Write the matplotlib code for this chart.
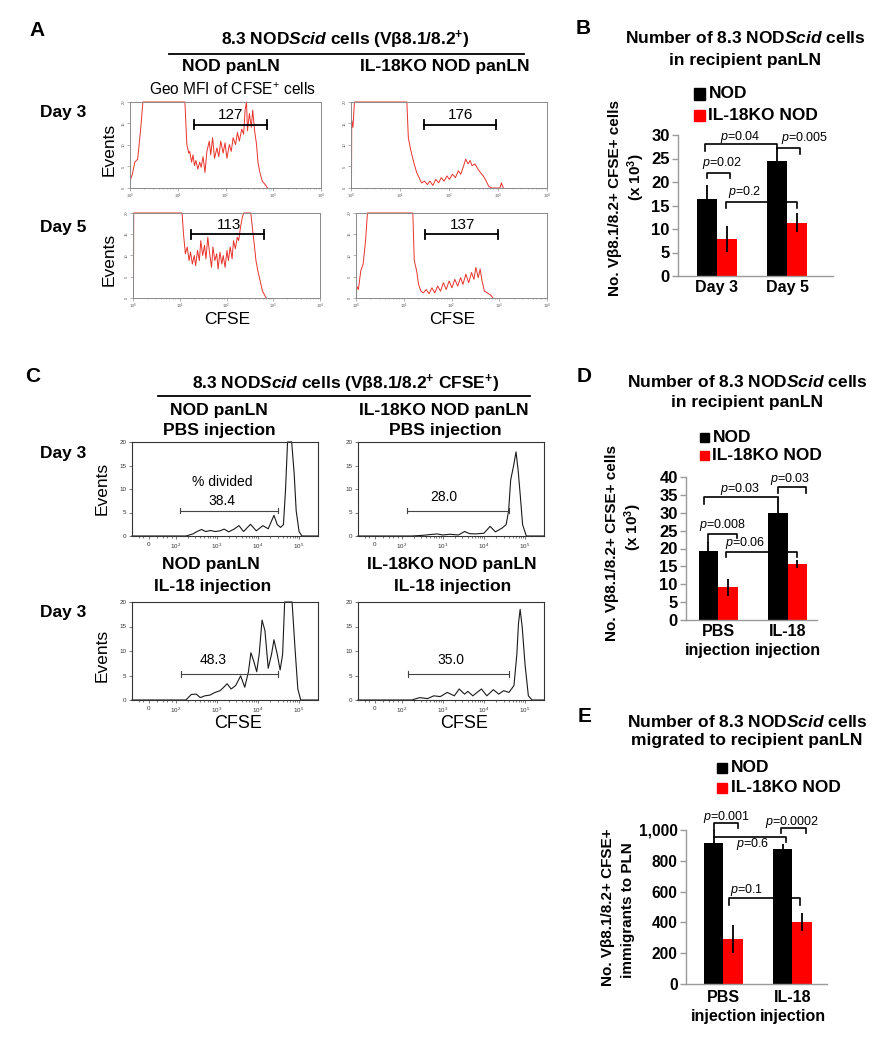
import numpy as np
import matplotlib
matplotlib.use("Agg")
import matplotlib.pyplot as plt
from matplotlib.patches import Rectangle
from matplotlib.ticker import FuncFormatter, FixedLocator

plt.rcParams['font.family'] = ['Liberation Sans', 'DejaVu Sans']
plt.rcParams['mathtext.fontset'] = 'custom'
plt.rcParams['mathtext.rm'] = 'Liberation Sans'
plt.rcParams['mathtext.it'] = 'Liberation Sans:italic'
plt.rcParams['mathtext.bf'] = 'Liberation Sans:bold'
try:
    plt.rcParams['mathtext.bfit'] = 'Liberation Sans:italic:bold'
except Exception:
    pass

# ---------------- DATA ----------------
# Panel A: flow histograms (x = log10 CFSE, y = events, saturated at 20)
a_d3_nod_x = [0.01, 0.05, 0.10, 0.16, 0.22, 0.27, 0.6, 0.9, 1.15, 1.19, 1.23, 1.25, 1.29, 1.32, 1.35, 1.38,
              1.42, 1.46, 1.49, 1.53, 1.57, 1.61, 1.66, 1.69, 1.73, 1.77, 1.82, 1.86, 1.90, 1.95, 1.99,
              2.03, 2.08, 2.12, 2.16, 2.21, 2.25, 2.29, 2.34, 2.38, 2.41, 2.44, 2.46, 2.50, 2.54, 2.57,
              2.61, 2.65, 2.68, 2.72, 2.77, 2.83, 2.88]
a_d3_nod_y = [2.0, 3.2, 6.0, 6.7, 13.3, 20, 20, 20, 20, 10.1, 8.1, 8.5, 6.0, 7.7, 5.2, 6.4,
              4.4, 6.0, 4.8, 7.3, 3.6, 8.5, 10.9, 7.7, 11.7, 6.9, 9.3, 7.3, 10.9, 8.1, 10.5,
              6.9, 10.1, 8.5, 11.7, 10.1, 12.9, 10.9, 13.7, 12.5, 18.1, 20, 13.3, 17.3, 14.1, 18.1,
              13.3, 10.1, 6.0, 3.6, 1.6, 0.8, 0]
a_d3_ko_x = [0.01, 0.015, 0.04, 0.07, 0.5, 1.0, 1.14, 1.17, 1.21, 1.26, 1.30, 1.34, 1.39, 1.44, 1.50,
             1.56, 1.61, 1.67, 1.73, 1.79, 1.84, 1.90, 1.96, 2.01, 2.07, 2.13, 2.19, 2.24, 2.30, 2.34,
             2.39, 2.43, 2.47, 2.53, 2.59, 2.64, 2.70, 2.76, 2.81, 2.87, 3.04, 3.07, 3.11]
a_d3_ko_y = [0, 15.7, 14.1, 20, 20, 20, 20, 11.7, 9.3, 6.9, 5.2, 3.6, 2.4, 1.2, 1.6,
             0.8, 1.6, 0.6, 2.0, 1.2, 2.4, 1.6, 2.8, 2.0, 3.2, 2.4, 4.0, 3.2, 5.2, 6.7,
             5.6, 6.4, 5.2, 5.6, 4.4, 3.6, 2.8, 1.6, 0.4, 0, 0, 1.2, 0]
a_d5_nod_x = [0.01, 0.015, 0.5, 1.0, 1.05, 1.08, 1.12, 1.16, 1.20, 1.23, 1.27, 1.31, 1.34, 1.38, 1.42,
              1.45, 1.49, 1.53, 1.56, 1.60, 1.64, 1.68, 1.71, 1.75, 1.79, 1.82, 1.86, 1.90, 1.93, 1.97,
              2.01, 2.04, 2.08, 2.12, 2.15, 2.19, 2.23, 2.26, 2.30, 2.34, 2.37, 2.52, 2.56, 2.60, 2.63,
              2.67, 2.72, 2.77, 2.81, 2.85]
a_d5_nod_y = [0, 20, 20, 20, 20, 15.1, 10.4, 12.0, 8.8, 10.8, 8.0, 10.0, 7.6, 11.2, 8.8,
              13.5, 10.0, 12.4, 9.2, 14.3, 10.4, 7.2, 12.0, 8.8, 10.4, 6.8, 10.8, 8.0, 10.0, 7.2,
              11.2, 8.8, 12.0, 9.2, 13.5, 11.6, 14.3, 13.5, 16.7, 19.1, 20, 20, 15.9, 12.0, 8.8,
              6.4, 4.0, 1.6, 0.8, 0]
a_d5_ko_x = [0.01, 0.015, 0.05, 0.10, 0.15, 0.20, 0.24, 0.6, 1.0, 1.19, 1.22, 1.27, 1.31, 1.36, 1.41,
             1.47, 1.53, 1.59, 1.65, 1.71, 1.77, 1.83, 1.89, 1.95, 2.01, 2.07, 2.13, 2.19, 2.24, 2.30,
             2.36, 2.42, 2.47, 2.51, 2.56, 2.60, 2.64, 2.69, 2.75, 2.81, 2.87]
a_d5_ko_y = [0, 2.8, 2.0, 6.4, 8.0, 13.5, 20, 20, 20, 20, 8.8, 6.4, 3.2, 1.6, 1.2,
             2.0, 1.0, 2.4, 1.2, 2.8, 1.6, 3.6, 2.0, 4.0, 2.4, 4.4, 2.8, 4.8, 3.2, 5.6,
             3.6, 6.0, 4.4, 7.2, 4.8, 6.8, 4.0, 1.6, 1.2, 0.8, 0]
# gates: start, end (log10 CFSE), height ; labels (Geo MFI)
a_gates = [(1.33, 2.86, 14.75), (1.48, 2.95, 14.75), (1.25, 2.81, 15.0), (1.44, 2.97, 15.0)]
a_mfi = ['127', '176', '113', '137']

# Panel C: flow histograms on biexponential scale (x = display decade, 0 at 1.35)
c_pbs_nod_x = [0.94, 2.25, 2.42, 2.52, 2.63, 2.73, 2.85, 2.96, 3.08, 3.18, 3.29, 3.42, 3.54, 3.65, 3.82,
               3.96, 4.12, 4.25, 4.39, 4.47, 4.55, 4.62, 4.67, 4.72, 4.82, 4.88, 4.93, 5.00, 5.07, 5.46]
c_pbs_nod_y = [0, 0, 0.44, 0.95, 1.39, 0.95, 1.17, 0.95, 1.10, 1.47, 0.88, 1.47, 2.20, 0.95, 2.49,
               1.10, 2.20, 1.54, 4.40, 2.42, 1.83, 2.42, 9.74, 20, 20, 13.4, 5.35, 0.95, 0, 0]
c_pbs_ko_x = [0.94, 2.25, 2.53, 2.67, 2.86, 3.0, 3.17, 3.38, 3.53, 3.65, 3.79, 4.0, 4.15, 4.28, 4.44,
              4.54, 4.60, 4.65, 4.72, 4.78, 4.83, 4.88, 4.94, 5.03, 5.46]
c_pbs_ko_y = [0, 0, 0.15, 0.29, 0.44, 0.22, 0.37, 0.22, 0.95, 0.51, 0.44, 0.59, 2.05, 0.88, 1.68,
              2.42, 5.35, 11.9, 14.9, 17.9, 14.1, 9.0, 2.42, 0, 0]
c_il18_nod_x = [0.94, 2.25, 2.38, 2.50, 2.60, 2.71, 2.83, 2.96, 3.08, 3.17, 3.25, 3.35, 3.46, 3.58, 3.68,
                3.77, 3.83, 3.90, 3.97, 4.03, 4.10, 4.17, 4.25, 4.33, 4.39, 4.47, 4.54, 4.60, 4.65, 4.83,
                4.90, 4.97, 5.04, 5.46]
c_il18_nod_y = [0, 0, 1.13, 1.20, 0.49, 0.85, 0.99, 1.55, 1.90, 2.61, 3.31, 2.25, 2.96, 4.93, 2.61,
                5.77, 9.65, 7.89, 5.77, 9.30, 16.3, 14.2, 6.48, 9.30, 12.3, 9.30, 6.13, 9.30, 20, 20,
                10.7, 2.25, 0, 0]
c_il18_ko_x = [0.94, 2.25, 2.44, 2.63, 2.78, 2.94, 3.11, 3.28, 3.40, 3.53, 3.61, 3.73, 3.94, 4.07, 4.23,
               4.36, 4.48, 4.61, 4.73, 4.80, 4.84, 4.88, 4.93, 5.00, 5.08, 5.17, 5.46]
c_il18_ko_y = [0, 0, 0.49, 0.28, 0.85, 0.70, 1.55, 0.85, 2.25, 1.20, 1.76, 0.85, 2.25, 0.85, 2.11,
               1.20, 1.90, 1.55, 2.96, 9.30, 15.6, 18.5, 14.9, 7.18, 0.85, 0, 0]
c_gates = [(2.11, 4.50, 5.4), (2.13, 4.62, 5.4), (2.125, 4.50, 5.35), (2.15, 4.62, 5.35)]
c_divided = ['38.4', '28.0', '48.3', '35.0']
c_xtick_pos = [1.35, 2, 3, 4, 5]
c_xtick_lab = ['0', '10$^{2}$', '10$^{3}$', '10$^{4}$', '10$^{5}$']

# Panel B
b_groups = ['Day 3', 'Day 5']
b_nod = [16.3, 24.5]
b_nod_err = [3.0, 3.0]
b_ko = [7.9, 11.3]
b_ko_err = [2.7, 2.0]
# Panel D
d_groups = ['PBS\ninjection', 'IL-18\ninjection']
d_nod = [19.2, 30.0]
d_nod_err = [2.6, 4.3]
d_ko = [9.1, 15.7]
d_ko_err = [2.5, 1.2]
# Panel E
e_groups = ['PBS\ninjection', 'IL-18\ninjection']
e_nod = [915, 877]
e_nod_err = [85, 35]
e_ko = [292, 402]
e_ko_err = [92, 56]

RED = '#ff0000'
HRED = '#e8332a'
W, H = 889, 1050
fig = plt.figure(figsize=(W / 100, H / 100), dpi=100)


def ax_px(x0, y0, x1, y1):
    return fig.add_axes([x0 / W, 1 - y1 / H, (x1 - x0) / W, (y1 - y0) / H])


def txt(x, y, s, **kw):
    kw.setdefault('ha', 'center')
    kw.setdefault('va', 'center')
    fig.text(x / W, 1 - y / H, s, **kw)


def hline(x0, x1, y, lw=1.3):
    fig.add_artist(plt.Line2D([x0 / W, x1 / W], [1 - y / H, 1 - y / H], color='k', lw=lw))


HDR = 12.6
TTL = 12.5

# ---------------- PANEL A ----------------
txt(37, 31, 'A', fontsize=15, fontweight='bold')
txt(345, 40, r'8.3 NOD$\mathbfit{Scid}$ cells (Vβ8.1/8.2$^{\mathbf{+}}$)', fontsize=TTL, fontweight='bold')
hline(169, 524, 54)
txt(231, 67, 'NOD panLN', fontsize=HDR, fontweight='bold')
txt(445, 67, 'IL-18KO NOD panLN', fontsize=HDR, fontweight='bold')
txt(232, 90, r'Geo MFI of CFSE$^{+}$ cells', fontsize=11.2)
txt(63, 113, 'Day 3', fontsize=12.5, fontweight='bold')
txt(63, 228, 'Day 5', fontsize=12.5, fontweight='bold')

a_rects = [(130, 102, 321, 188), (351, 102, 547, 188), (133, 213, 320, 298), (356, 213, 547, 298)]
a_data = [(a_d3_nod_x, a_d3_nod_y), (a_d3_ko_x, a_d3_ko_y), (a_d5_nod_x, a_d5_nod_y), (a_d5_ko_x, a_d5_ko_y)]
for i, (r, (xs, ys)) in enumerate(zip(a_rects, a_data)):
    ax = ax_px(*r)
    ax.plot(10 ** np.array(xs), ys, color=HRED, lw=0.7, clip_on=False)
    ax.set_xscale('log')
    ax.set_xlim(1, 1e4)
    ax.set_ylim(0, 20)
    for s in ax.spines.values():
        s.set_color('#8a8a8a')
        s.set_linewidth(0.7)
    ax.tick_params(which='both', direction='out', color='#777', width=0.4, labelsize=3.0,
                   labelcolor='#555', pad=0.8)
    ax.tick_params(which='major', length=2)
    ax.tick_params(which='minor', length=1)
    ax.set_xticks([1, 10, 100, 1000, 10000])
    ax.set_xticklabels(['10$^{0}$', '10$^{1}$', '10$^{2}$', '10$^{3}$', '10$^{4}$'])
    ax.set_yticks([0, 5, 10, 15, 20])
    ax.set_yticklabels(['0', '5', '10', '15', '20'], rotation=90, va='center')
    g0, g1, gy = a_gates[i]
    ax.plot([10 ** g0, 10 ** g1], [gy, gy], color='k', lw=1.3)
    for gx in (g0, g1):
        ax.plot([10 ** gx] * 2, [gy - 1.1, gy + 1.1], color='k', lw=1.3)
    ax.text(10 ** ((g0 + g1) / 2 + 0.02), gy + 2.2, a_mfi[i], ha='center', va='center', fontsize=11)

txt(109, 149, 'Events', fontsize=12.5, rotation=90)
txt(109, 259, 'Events', fontsize=12.5, rotation=90)
txt(227, 320, 'CFSE', fontsize=12.5)
txt(452, 320, 'CFSE', fontsize=12.5)

# ---------------- PANEL C ----------------
txt(33, 377, 'C', fontsize=15, fontweight='bold')
txt(346, 384, r'8.3 NOD$\mathbfit{Scid}$ cells (Vβ8.1/8.2$^{\mathbf{+}}$ CFSE$^{\mathbf{+}}$)',
    fontsize=TTL, fontweight='bold')
hline(158, 530, 396)
txt(219, 411, 'NOD panLN', fontsize=HDR, fontweight='bold')
txt(219, 431, 'PBS injection', fontsize=HDR, fontweight='bold')
txt(444, 411, 'IL-18KO NOD panLN', fontsize=HDR, fontweight='bold')
txt(445, 431, 'PBS injection', fontsize=HDR, fontweight='bold')
txt(211, 565, 'NOD panLN', fontsize=HDR, fontweight='bold')
txt(213, 586, 'IL-18 injection', fontsize=HDR, fontweight='bold')
txt(452, 565, 'IL-18KO NOD panLN', fontsize=HDR, fontweight='bold')
txt(453, 586, 'IL-18 injection', fontsize=HDR, fontweight='bold')
txt(63, 454, 'Day 3', fontsize=12.5, fontweight='bold')
txt(63, 613, 'Day 3', fontsize=12.5, fontweight='bold')

c_rects = [(132, 442, 318, 536), (358, 442, 544, 536), (132, 602, 318, 700), (358, 602, 544, 700)]
c_data = [(c_pbs_nod_x, c_pbs_nod_y), (c_pbs_ko_x, c_pbs_ko_y), (c_il18_nod_x, c_il18_nod_y),
          (c_il18_ko_x, c_il18_ko_y)]
minor = [d + np.log10(k) for d in (2, 3, 4) for k in range(2, 10)] + [1.55, 1.7, 1.8, 1.9, 1.1, 1.2]
for i, (r, (xs, ys)) in enumerate(zip(c_rects, c_data)):
    ax = ax_px(*r)
    ax.plot(xs, ys, color='#1a1a1a', lw=0.8, clip_on=False)
    ax.set_xlim(0.94, 5.46)
    ax.set_ylim(0, 20)
    for s in ax.spines.values():
        s.set_color('#333')
        s.set_linewidth(0.8)
    ax.set_xticks(c_xtick_pos)
    ax.set_xticklabels(c_xtick_lab)
    ax.xaxis.set_minor_locator(FixedLocator(minor))
    ax.set_yticks([0, 5, 10, 15, 20])
    ax.tick_params(which='both', direction='out', color='#444', width=0.5, labelsize=4.5,
                   labelcolor='#333', pad=1.5)
    ax.tick_params(which='major', length=2.5)
    ax.tick_params(which='minor', length=1.3)
    g0, g1, gy = c_gates[i]
    ax.plot([g0, g1], [gy, gy], color='#444', lw=0.8)
    for gx in (g0, g1):
        ax.plot([gx, gx], [gy - 0.6, gy + 0.6], color='#444', lw=0.8)
    lx = [3.125, 3.03, 2.92, 3.19][i]
    if i == 0:
        ax.text(lx, 11.4, '% divided', ha='center', va='center', fontsize=10)
        ax.text(lx, 7.5, c_divided[i], ha='center', va='center', fontsize=10)
    else:
        ax.text(lx, 8.2, c_divided[i], ha='center', va='center', fontsize=10)

txt(102, 488, 'Events', fontsize=12.5, rotation=90)
txt(102, 655, 'Events', fontsize=12.5, rotation=90)
txt(238, 723, 'CFSE', fontsize=13)
txt(464, 723, 'CFSE', fontsize=13)


# ---------------- BAR PANELS ----------------
def bar_panel(rect, xlim, ylim, groups, nod, nod_err, ko, ko_err, yticks, fmt, tick_fs, xl_fs, pad):
    ax = ax_px(*rect)
    x = np.arange(len(groups))
    w = 0.28
    ax.bar(x - w / 2, nod, w, color='k', zorder=2)
    ax.bar(x + w / 2, ko, w, color=RED, zorder=2)
    ax.errorbar(x - w / 2, nod, yerr=nod_err, fmt='none', ecolor='k', elinewidth=1.3, capsize=0, zorder=3)
    ax.errorbar(x + w / 2, ko, yerr=ko_err, fmt='none', ecolor='k', elinewidth=1.3, capsize=0, zorder=3)
    ax.set_xlim(*xlim)
    ax.set_ylim(*ylim)
    for side in ('top', 'right'):
        ax.spines[side].set_visible(False)
    for side in ('left', 'bottom'):
        ax.spines[side].set_color('#9a9a9a')
        ax.spines[side].set_linewidth(1.0)
    ax.set_yticks(yticks)
    ax.yaxis.set_major_formatter(FuncFormatter(fmt))
    ax.tick_params(axis='y', direction='out', length=4, width=1.0, color='#9a9a9a', pad=2,
                   labelsize=tick_fs)
    ax.set_xticks(x)
    ax.set_xticklabels(groups, fontsize=xl_fs, fontweight='bold', linespacing=1.35)
    ax.tick_params(axis='x', length=0, pad=pad)
    for lab in ax.get_yticklabels():
        lab.set_fontweight('bold')
    return ax


def bracket(ax, x1, x2, y, l1, l2, label, lx, ly, fs=9):
    xs, ys = [], []
    if l1 is not None:
        xs.append(x1); ys.append(l1)
    xs += [x1, x2]; ys += [y, y]
    if l2 is not None:
        xs.append(x2); ys.append(l2)
    ax.plot(xs, ys, color='k', lw=1.2, clip_on=False, zorder=4)
    ax.text(lx, ly, label, ha='center', va='center', fontsize=fs, clip_on=False)


def legend(x_sq, y1, y2, size=11, fs=12.5, gap=4):
    for yy, col, lab in ((y1, 'k', 'NOD'), (y2, RED, 'IL-18KO NOD')):
        fig.add_artist(Rectangle(((x_sq - size / 2) / W, 1 - (yy + size / 2) / H), size / W, size / H,
                                 color=col, transform=fig.transFigure))
        txt(x_sq + size / 2 + gap, yy, lab, ha='left', fontsize=fs, fontweight='bold')


int_fmt = lambda v, p: f'{v:.0f}'
comma_fmt = lambda v, p: f'{v:,.0f}'

# Panel B
txt(583, 28, 'B', fontsize=15, fontweight='bold')
txt(745, 38, r'Number of 8.3 NOD$\mathbfit{Scid}$ cells', fontsize=TTL, fontweight='bold')
txt(745, 60, 'in recipient panLN', fontsize=TTL, fontweight='bold')
legend(699, 94, 116)
axb = bar_panel((678, 135, 833, 276), (-0.557, 1.657), (0, 30), b_groups, b_nod, b_nod_err, b_ko, b_ko_err,
                range(0, 31, 5), int_fmt, 12, 11.5, 3)
bracket(axb, -0.14, 0.18, 22.0, 20.8, 20.8, '$p$=0.02', 0.07, 24.0)
bracket(axb, -0.17, 0.86, 28.0, 26.5, 27.0, '$p$=0.04', 0.33, 29.6)
bracket(axb, 0.86, 1.19, 27.2, None, 26.0, '$p$=0.005', 1.25, 29.4)
bracket(axb, 0.13, 1.14, 15.8, 14.4, 14.4, '$p$=0.2', 0.4, 17.8)
txt(615, 198, 'No. Vβ8.1/8.2+ CFSE+ cells', fontsize=11, fontweight='bold', rotation=90)
txt(636, 177, r'(x 10$^{\mathbf{3}}$)', fontsize=11, fontweight='bold', rotation=90)

# Panel D
txt(584, 377, 'D', fontsize=15, fontweight='bold')
txt(747, 382, r'Number of 8.3 NOD$\mathbfit{Scid}$ cells', fontsize=TTL, fontweight='bold')
txt(747, 403, 'in recipient panLN', fontsize=TTL, fontweight='bold')
legend(704, 437, 455, size=9)
axd = bar_panel((686, 477, 817, 620), (-0.46, 1.42), (0, 40), d_groups, d_nod, d_nod_err, d_ko, d_ko_err,
                range(0, 41, 5), int_fmt, 12, 11.5, 3)
bracket(axd, -0.14, 0.27, 24.0, 21.9, 22.8, '$p$=0.008', 0.07, 26.6)
bracket(axd, 0.12, 1.14, 19.1, 17.7, 17.7, '$p$=0.06', 0.39, 21.4)
bracket(axd, -0.2, 0.86, 34.3, 32.5, None, '$p$=0.03', 0.32, 36.7)
bracket(axd, 0.86, 1.26, 37.1, 35.5, 35.5, '$p$=0.03', 1.04, 39.5)
txt(612, 543, 'No. Vβ8.1/8.2+ CFSE+ cells', fontsize=11, fontweight='bold', rotation=90)
txt(633, 527, r'(x 10$^{\mathbf{3}}$)', fontsize=11, fontweight='bold', rotation=90)

# Panel E
txt(585, 717, 'E', fontsize=15, fontweight='bold')
txt(747, 722, r'Number of 8.3 NOD$\mathbfit{Scid}$ cells', fontsize=TTL, fontweight='bold')
txt(747, 741, 'migrated to recipient panLN', fontsize=TTL, fontweight='bold')
legend(722, 768, 788, size=10)
axe = bar_panel((686, 830, 827, 984), (-0.543, 1.5), (0, 1000), e_groups, e_nod, e_nod_err, e_ko, e_ko_err,
                range(0, 1001, 200), comma_fmt, 11.2, 11.5, 4)
bracket(axe, -0.14, 0.21, 1043, 1000, 1013, '$p$=0.001', 0.04, 1087)
bracket(axe, 0.83, 1.2, 1011, 978, 978, '$p$=0.0002', 1.0, 1054)
bracket(axe, -0.14, 0.906, 952, None, 920, '$p$=0.6', 0.43, 909)
bracket(axe, 0.08, 1.11, 557, 514, 514, '$p$=0.1', 0.34, 611)
txt(608, 907, 'No. Vβ8.1/8.2+ CFSE+', fontsize=11, fontweight='bold', rotation=90)
txt(628, 910, 'immigrants to PLN', fontsize=11, fontweight='bold', rotation=90)

fig.savefig('out.png', dpi=100)
